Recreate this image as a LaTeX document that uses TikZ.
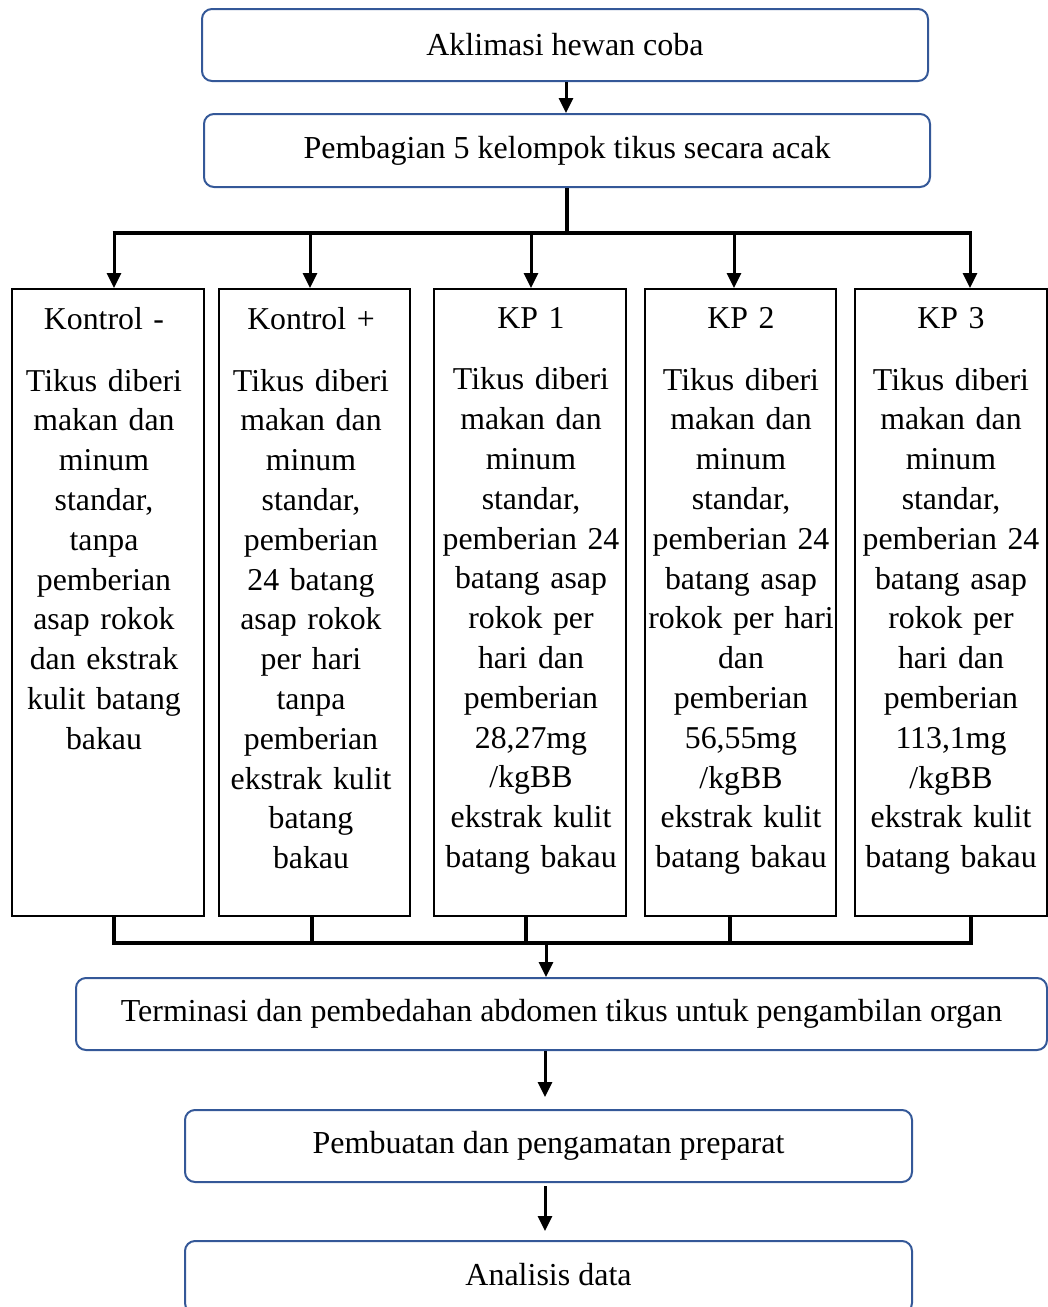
\documentclass[tikz,border=0pt]{standalone}
\usepackage{fontspec}
\setmainfont{Liberation Serif}
\usetikzlibrary{arrows.meta}
\definecolor{boxblue}{RGB}{52,88,152}
\tikzset{
  rbox/.style={draw=boxblue, line width=2pt, rounded corners=10pt, inner sep=0pt, anchor=north west},
  btext/.style={font=\fontsize{32}{39.8}\selectfont},
  gbox/.style={draw=black, line width=2pt, inner sep=0pt, anchor=north west, minimum height=627pt},
  gtext/.style={anchor=north, inner sep=0pt, align=center, text width=200pt,
    font=\fontsize{31.8}{39.8}\selectfont},
  arr/.style={line width=3pt, -{Triangle[length=15pt,width=14pt]}},
  conn/.style={line width=3.5pt}
}
\begin{document}
\begin{tikzpicture}[x=1pt,y=-1pt]
\useasboundingbox (0,0) rectangle (1048,1307);
% top boxes
\node[rbox, minimum width=726pt, minimum height=72pt] (b1) at (201,8) {};
\node[btext] at (b1.center) (t1) {Aklimasi hewan coba};
\node[rbox, minimum width=726pt, minimum height=73pt] (b2) at (203,113) {};
\node[btext] at (b2.center) (t2) {Pembagian 5 kelompok tikus secara acak};
\draw[arr] (b1.south -| 566,0) -- (b2.north -| 566,0);
% group boxes
\node[gbox, minimum width=192pt] (g1) at (11,288) {};
\node[gbox, minimum width=191pt] (g2) at (218,288) {};
\node[gbox, minimum width=192pt] (g3) at (433,288) {};
\node[gbox, minimum width=191pt] (g4) at (644,288) {};
\node[gbox, minimum width=192pt] (g5) at (854,288) {};
\node[gtext] (x1) at (104,307.5) {Kontrol -\\[21.5pt]Tikus diberi\\makan dan\\minum\\standar,\\tanpa\\pemberian\\asap rokok\\dan ekstrak\\kulit batang\\bakau};
\node[gtext] (x2) at (311,307.5) {Kontrol +\\[21.5pt]Tikus diberi\\makan dan\\minum\\standar,\\pemberian\\24 batang\\asap rokok\\per hari\\tanpa\\pemberian\\ekstrak kulit\\batang\\bakau};
\node[gtext] (x3) at (531,307.5) {KP 1\\[21.5pt]Tikus diberi\\makan dan\\minum\\standar,\\pemberian 24\\batang asap\\rokok per\\hari dan\\pemberian\\28,27mg\\/kgBB\\ekstrak kulit\\batang bakau};
\node[gtext] (x4) at (741,307.5) {KP 2\\[21.5pt]Tikus diberi\\makan dan\\minum\\standar,\\pemberian 24\\batang asap\\rokok per hari\\dan\\pemberian\\56,55mg\\/kgBB\\ekstrak kulit\\batang bakau};
\node[gtext] (x5) at (951,307.5) {KP 3\\[21.5pt]Tikus diberi\\makan dan\\minum\\standar,\\pemberian 24\\batang asap\\rokok per\\hari dan\\pemberian\\113,1mg\\/kgBB\\ekstrak kulit\\batang bakau};
% split connectors
\coordinate (s0) at (567,233);
\coordinate (s1) at (114,233);
\coordinate (s2) at (310,233);
\coordinate (s3) at (531,233);
\coordinate (s4) at (734,233);
\coordinate (s5) at (970,233);
\draw[conn] (b2.south -| s0) -- (s0);
\draw[line width=4pt] ([xshift=-1.5pt]s1) -- ([xshift=1.5pt]s5);
\foreach \i in {1,...,5} { \draw[arr] (s\i) -- (s\i |- g\i.north); }
% merge connectors
\coordinate (m1) at (114,943);
\coordinate (m2) at (312,943);
\coordinate (m3) at (526,943);
\coordinate (m4) at (730,943);
\coordinate (m5) at (971,943);
\coordinate (m0) at (546,943);
\foreach \i in {1,...,5} { \draw[conn] (m\i |- g\i.south) -- (m\i); }
\draw[conn] ([xshift=-1.75pt]m1) -- ([xshift=1.75pt]m5);
% lower boxes
\node[rbox, minimum width=971pt, minimum height=72pt] (b3) at (75,977) {};
\node[btext] at (b3.center) (t3) {Terminasi dan pembedahan abdomen tikus untuk pengambilan organ};
\node[rbox, minimum width=727pt, minimum height=72pt] (b4) at (184,1109) {};
\node[btext] at (b4.center) (t4) {Pembuatan dan pengamatan preparat};
\node[rbox, minimum width=727pt, minimum height=72pt] (b5) at (184,1240) {};
\node[btext] at ([yshift=2pt]b5.center) (t5) {Analisis data};
\draw[arr] (m0) -- (m0 |- b3.north);
\draw[arr] (b3.south -| 545,0) -- ([yshift=12pt]b4.north -| 545,0);
\draw[arr] ([yshift=-3pt]b4.south -| 545,0) -- ([yshift=9pt]b5.north -| 545,0);
\end{tikzpicture}
\end{document}
